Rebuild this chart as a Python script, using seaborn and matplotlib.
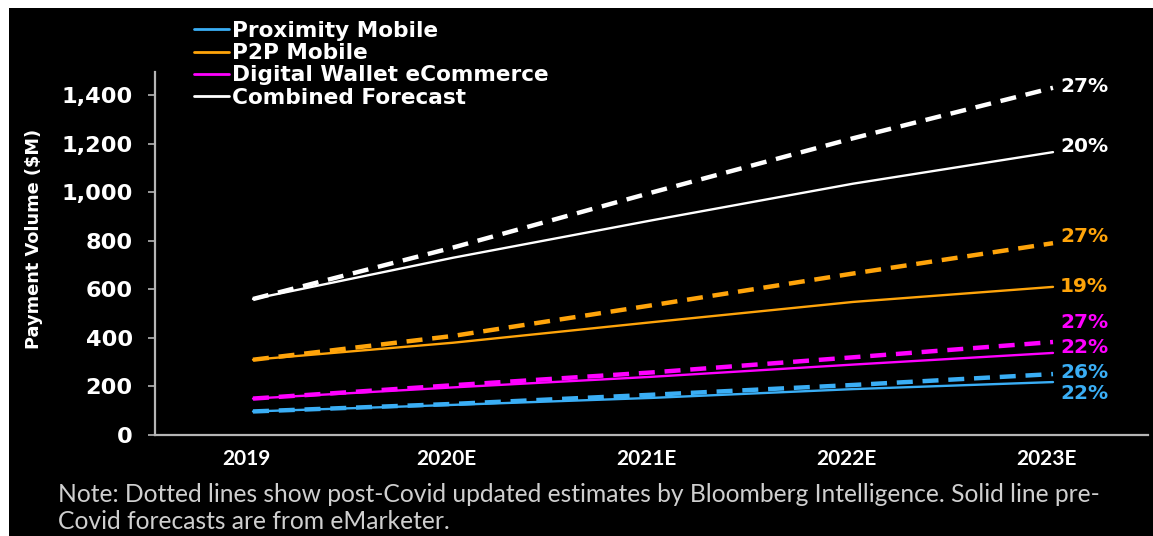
import matplotlib
matplotlib.use("Agg")
import matplotlib.pyplot as plt
from matplotlib.patches import Rectangle
from matplotlib.lines import Line2D
from matplotlib.transforms import ScaledTranslation
import pandas as pd
import seaborn as sns

# ---- data -------------------------------------------------------------
years = ["2019", "2020E", "2021E", "2022E", "2023E"]
series_names = ["Proximity Mobile", "P2P Mobile", "Digital Wallet eCommerce", "Combined Forecast"]

# pre-Covid forecasts (eMarketer), $M
proximity_pre = [97, 124, 153, 189, 218]
p2p_pre = [310, 380, 465, 548, 610]
wallet_pre = [150, 196, 240, 290, 338]
combined_pre = [560, 730, 885, 1035, 1165]

# post-Covid updated estimates (Bloomberg Intelligence), $M
proximity_post = [97, 128, 166, 206, 251]
p2p_post = [310, 408, 535, 665, 790]
wallet_post = [150, 205, 258, 320, 383]
combined_post = [560, 772, 1000, 1222, 1430]

# 2019-2023 CAGR labels
cagr_pre = ["22%", "19%", "22%", "20%"]
cagr_post = ["26%", "27%", "27%", "27%"]

colors = ["#3aaef5", "#ffa40a", "#ff00ff", "#ffffff"]

# ---- long-format table ------------------------------------------------
rows = []
pre_vals = [proximity_pre, p2p_pre, wallet_pre, combined_pre]
post_vals = [proximity_post, p2p_post, wallet_post, combined_post]
for name, pre, post in zip(series_names, pre_vals, post_vals):
    for yr, v in zip(years, pre):
        rows.append({"year": yr, "value": v, "series": name, "scenario": "pre"})
    for yr, v in zip(years, post):
        rows.append({"year": yr, "value": v, "series": name, "scenario": "post"})
df = pd.DataFrame(rows)

sns.set_theme(style="dark")
plt.rcParams["font.family"] = ["DejaVu Sans"]
BOLD = ["DejaVu Sans"]
CAL = ["Lato", "DejaVu Sans"]

fig = plt.figure(figsize=(11.53, 5.36), dpi=100, facecolor="white")
# black panel with a thin white margin on the top and left
fig.patches.append(Rectangle((9 / 1153, 0), 1, 1 - 8 / 536, transform=fig.transFigure,
                             facecolor="black", edgecolor="none", zorder=-10))

ax = fig.add_axes([155 / 1153, 1 - 435 / 536, (1148 - 155) / 1153, (435 - 72) / 536])
ax.set_facecolor("black")

palette = dict(zip(series_names, colors))
pre_df = df[df.scenario == "pre"]
post_df = df[df.scenario == "post"]
sns.lineplot(data=pre_df, x="year", y="value", hue="series", palette=palette,
             linewidth=1.7, ax=ax, legend=False, sort=False, zorder=3)
sns.lineplot(data=post_df, x="year", y="value", hue="series", palette=palette,
             linewidth=3.2, ax=ax, legend=False, sort=False, zorder=4)
for line in ax.lines[len(series_names):]:
    line.set_dashes((3.6, 2.2))
    line.set_dash_capstyle("butt")

ax.set_xlim(-0.49, 4.475)
ax.set_ylim(0, 1495)
ax.set_yticks(range(0, 1401, 200))
ax.set_yticklabels([f"{v:,}" for v in range(0, 1401, 200)])

for s in ["top", "right"]:
    ax.spines[s].set_visible(False)
for s in ["left", "bottom"]:
    ax.spines[s].set_visible(True)
    ax.spines[s].set_color("#b5b5b5")
    ax.spines[s].set_linewidth(1.6)
ax.grid(False)

ax.tick_params(axis="y", which="both", left=True, length=5, width=1.2, color="#b5b5b5",
               labelcolor="white", pad=11)
ax.tick_params(axis="x", bottom=False, labelcolor="white", pad=4)
for t in ax.get_yticklabels():
    t.set_fontweight("bold")
    t.set_fontfamily(BOLD)
    t.set_fontsize(16.2)
shift = ScaledTranslation(-7 / 100, 0, fig.dpi_scale_trans)
for t in ax.get_xticklabels():
    t.set_fontweight("bold")
    t.set_fontfamily(CAL)
    t.set_fontsize(15)
    t.set_transform(t.get_transform() + shift)

ax.set_xlabel("")
ax.set_ylabel("Payment Volume ($M)", color="white", fontsize=12.8, fontweight="bold",
              family=BOLD)
ax.yaxis.set_label_coords(-0.113, 0.54)

# CAGR labels at the right end of each line (offsets in points keep them apart)
pre_offsets = [-8, 0, 4, 4]
post_offsets = [1, 4.5, 14, 1]
for i, name in enumerate(series_names):
    ax.annotate(cagr_pre[i], (4, pre_vals[i][-1]), xytext=(5, pre_offsets[i]),
                textcoords="offset points", color=colors[i], fontsize=14.5,
                fontweight="bold", family=BOLD, va="center", ha="left",
                annotation_clip=False)
    ax.annotate(cagr_post[i], (4, post_vals[i][-1]), xytext=(5, post_offsets[i]),
                textcoords="offset points", color=colors[i], fontsize=14.5,
                fontweight="bold", family=BOLD, va="center", ha="left",
                annotation_clip=False)

handles = [Line2D([0], [0], color=c, linewidth=2) for c in colors]
leg = fig.legend(handles, series_names, loc="upper left",
                 bbox_to_anchor=(194 / 1153, 1 - 21 / 536), frameon=False,
                 handlelength=1.6, handletextpad=0.15, labelspacing=0.1,
                 borderpad=0, borderaxespad=0,
                 prop={"weight": "bold", "size": 15.6, "family": BOLD})
for t in leg.get_texts():
    t.set_color("white")

fig.text(58 / 1153, 1 - 483 / 536,
         "Note: Dotted lines show post-Covid updated estimates by Bloomberg Intelligence. Solid line pre-\n"
         "Covid forecasts are from eMarketer.",
         color="#cfcfcf", fontsize=17.7, family=CAL,
         va="top", ha="left", linespacing=1.22)

fig.savefig("out.png", dpi=100, facecolor=fig.get_facecolor())
